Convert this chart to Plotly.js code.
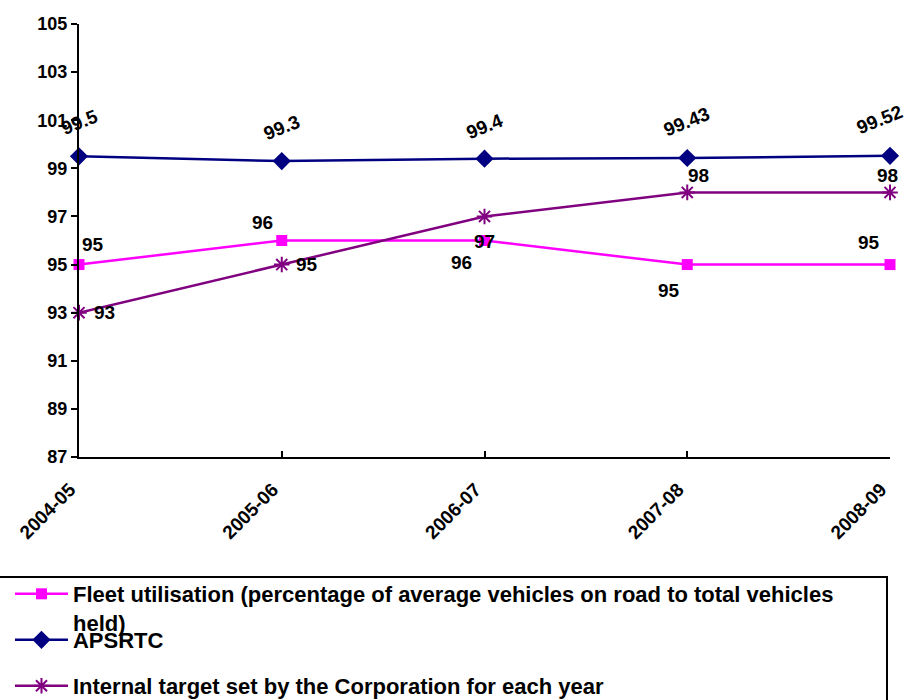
<!DOCTYPE html>
<html>
<head>
<meta charset="utf-8">
<script src="https://cdn.plot.ly/plotly-3.0.1.min.js"></script>
<style>
  html, body { margin: 0; padding: 0; background: #ffffff; }
  #chart { width: 907px; height: 700px; }
</style>
</head>
<body>
<div id="chart"></div>
<script>
// Financial years on the category axis
const years = ["2004-05", "2005-06", "2006-07", "2007-08", "2008-09"];

// Fleet utilisation (%), APSRTC figures and the internal target
const fleetUtilisation = [95, 96, 96, 95, 95];
const apsrtc = [99.5, 99.3, 99.4, 99.43, 99.52];
const internalTarget = [93, 95, 97, 98, 98];

// Tick values for the percentage axis
const yTicks = [87, 89, 91, 93, 95, 97, 99, 101, 103, 105];

const seriesNames = [
  "Fleet utilisation (percentage of average vehicles on road to total vehicles<br>held)",
  "APSRTC",
  "Internal target set by the Corporation for each year"
];

const FONT = "'Liberation Sans', Arial, Helvetica, sans-serif";
const MAGENTA = "#FF00FF";
const NAVY = "#000080";
const PURPLE = "#800080";

// Pixel offsets of each value label from its point
const fleetLabelShift = [[14, -20], [-19, -18], [-23, 22], [-18, 26], [-21, -22]];
const apsrtcLabelShift = [[0, -34], [0, -34], [0, -32], [0, -36], [-10, -36]];
const targetLabelShift = [[25, 0], [25, 0], [0, 25], [11, -17], [-3, -17]];

const traces = [
  {
    x: years, y: fleetUtilisation, name: seriesNames[0], legend: "legend",
    type: "scatter", mode: "lines+markers", cliponaxis: false,
    line: { color: MAGENTA, width: 2.5 },
    marker: { symbol: "square", size: 11, color: MAGENTA }
  },
  {
    x: years, y: apsrtc, name: seriesNames[1], legend: "legend2",
    type: "scatter", mode: "lines+markers", cliponaxis: false,
    line: { color: NAVY, width: 2.5 },
    marker: { symbol: "diamond", size: 14, color: NAVY }
  },
  {
    x: years, y: internalTarget, name: seriesNames[2], legend: "legend3",
    type: "scatter", mode: "lines+markers", cliponaxis: false,
    line: { color: PURPLE, width: 2.5 },
    marker: { symbol: "asterisk-open", size: 13, color: PURPLE, line: { color: PURPLE, width: 2 } }
  }
];

function labels(values, shifts, angle) {
  return values.map((v, i) => ({
    x: years[i], y: v, xref: "x", yref: "y",
    text: String(v), showarrow: false,
    xanchor: "center", yanchor: "middle",
    xshift: shifts[i][0], yshift: -shifts[i][1],
    textangle: angle,
    font: { family: FONT, size: 19, color: "#000000", weight: "bold" }
  }));
}

const annotations = []
  .concat(labels(fleetUtilisation, fleetLabelShift, 0))
  .concat(labels(apsrtc, apsrtcLabelShift, -22))
  .concat(labels(internalTarget, targetLabelShift, 0));

// One legend block per series, stacked inside a shared frame
function legendAt(top) {
  return {
    xref: "container", yref: "container",
    x: 0.011, y: 1 - top / 700, xanchor: "left", yanchor: "top",
    bgcolor: "rgba(0,0,0,0)", borderwidth: 0,
    valign: "top", itemwidth: 53,
    font: { family: FONT, size: 22, color: "#000000", weight: "bold" }
  };
}

const layout = {
  width: 907, height: 700,
  paper_bgcolor: "#ffffff", plot_bgcolor: "#ffffff",
  margin: { l: 79, r: 17, t: 24, b: 243, autoexpand: false },
  font: { family: FONT, color: "#000000" },
  showlegend: true,
  xaxis: {
    type: "category", range: [0, 4],
    showgrid: false, zeroline: false,
    showline: true, linecolor: "#000000", linewidth: 2,
    ticks: "inside", ticklen: 6, tickwidth: 2, tickcolor: "#000000",
    tickangle: -45, ticklabelstandoff: 12, ticklabelshift: -9,
    tickfont: { family: FONT, size: 19, color: "#000000", weight: "bold" }
  },
  yaxis: {
    range: [87, 105], tickmode: "array", tickvals: yTicks,
    showgrid: false, zeroline: false,
    showline: true, linecolor: "#000000", linewidth: 2,
    ticks: "outside", ticklen: 6, tickwidth: 2, tickcolor: "#000000",
    tickfont: { family: FONT, size: 18, color: "#000000", weight: "bold" }
  },
  legend: legendAt(573),
  legend2: legendAt(619),
  legend3: legendAt(665),
  shapes: [{
    type: "rect", xref: "paper", yref: "paper",
    x0: (-5 - 79) / 811, x1: (887 - 79) / 811,
    y0: (457 - 577) / 433, y1: (457 - 715) / 433,
    line: { color: "#000000", width: 2 }, fillcolor: "rgba(0,0,0,0)"
  }],
  annotations: annotations
};

Plotly.newPlot("chart", traces, layout, { displayModeBar: false, staticPlot: true });
</script>
</body>
</html>
